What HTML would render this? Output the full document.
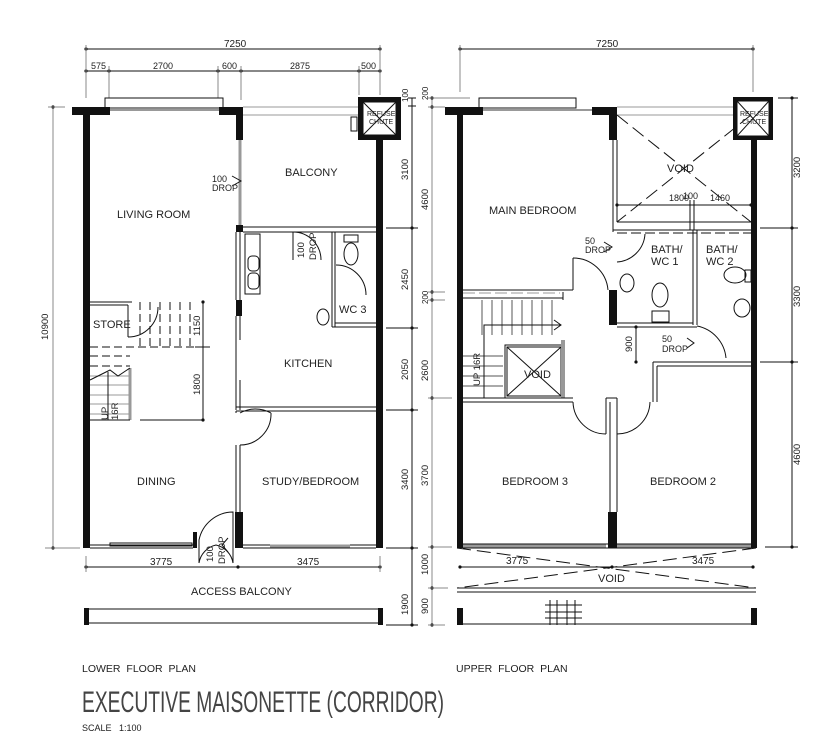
<!DOCTYPE html>
<html><head><meta charset="utf-8"><style>
html,body{margin:0;padding:0;background:#fff;}
svg{display:block;}
text{font-family:"Liberation Sans",sans-serif;fill:#222;}
</style></head><body>
<svg width="822" height="752" viewBox="0 0 822 752" xmlns="http://www.w3.org/2000/svg">
<defs>
<marker id="d" viewBox="0 0 4 4" refX="2" refY="2" markerWidth="4" markerHeight="4"><circle cx="2" cy="2" r="1.6" fill="#111"/></marker>
</defs>
<g stroke="#111" stroke-width="1" fill="none">
<!-- ===== LOWER PLAN ===== -->
<line x1="86" y1="49" x2="380" y2="49" marker-start="url(#d)" marker-end="url(#d)"/>
<line x1="86" y1="71" x2="380" y2="71"/>
<g marker-start="url(#d)"><line x1="86" y1="71" x2="86" y2="71.1"/><line x1="109" y1="71" x2="109" y2="71.1"/><line x1="218" y1="71" x2="218" y2="71.1"/><line x1="241" y1="71" x2="241" y2="71.1"/><line x1="359" y1="71" x2="359" y2="71.1"/><line x1="380" y1="71" x2="380" y2="71.1"/></g>
<g stroke="#888"><line x1="86" y1="45" x2="86" y2="98"/><line x1="109" y1="66" x2="109" y2="98"/><line x1="218" y1="66" x2="218" y2="98"/><line x1="241" y1="66" x2="241" y2="100"/><line x1="359" y1="66" x2="359" y2="95"/><line x1="380" y1="45" x2="380" y2="95"/></g>
<line x1="53" y1="107" x2="53" y2="548" stroke="#888" marker-start="url(#d)" marker-end="url(#d)"/>
<line x1="48" y1="107" x2="65" y2="107" stroke="#888"/><line x1="45" y1="548" x2="80" y2="548" stroke="#888"/>
<line x1="412" y1="98" x2="412" y2="625" marker-end="url(#d)"/>
<g marker-start="url(#d)"><line x1="412" y1="228" x2="412" y2="228.1"/><line x1="412" y1="328" x2="412" y2="328.1"/><line x1="412" y1="410" x2="412" y2="410.1"/><line x1="412" y1="548" x2="412" y2="548.1"/></g>
<line x1="408" y1="98" x2="416" y2="98"/><line x1="408" y1="106" x2="416" y2="106"/>
<g stroke="#111"><line x1="386" y1="228" x2="418" y2="228"/><line x1="386" y1="328" x2="418" y2="328"/><line x1="386" y1="410" x2="418" y2="410"/><line x1="386" y1="548" x2="418" y2="548"/><line x1="386" y1="625" x2="418" y2="625"/></g>
<line x1="86" y1="567" x2="380" y2="567"/>
<g marker-start="url(#d)"><line x1="86" y1="567" x2="86" y2="567.1"/><line x1="238" y1="567" x2="238" y2="567.1"/><line x1="380" y1="567" x2="380" y2="567.1"/></g>
<line x1="86" y1="556" x2="86" y2="572" stroke="#888"/><line x1="380" y1="556" x2="380" y2="572" stroke="#888"/>
<line x1="203" y1="302" x2="203" y2="420" marker-start="url(#d)" marker-end="url(#d)"/>
<line x1="140" y1="420" x2="203" y2="420"/><line x1="195" y1="347" x2="210" y2="347"/>
<g fill="#111" stroke="none">
<rect x="72" y="107" width="38" height="8"/>
<rect x="83" y="107" width="7" height="441"/>
<rect x="219" y="107" width="24" height="8"/><rect x="236" y="107" width="7" height="33"/>
<rect x="376" y="139" width="7" height="409"/>
<rect x="358" y="97" width="43" height="43"/>
<rect x="236" y="225" width="7" height="7"/>
<rect x="236" y="300" width="6" height="16"/>
<rect x="235" y="512" width="8" height="36"/>
<rect x="193" y="532" width="4" height="16"/>
<rect x="84" y="608" width="5" height="17"/><rect x="378" y="608" width="5" height="17"/>
</g>
<rect x="363" y="102" width="33" height="33" fill="#fff"/>
<line x1="363" y1="102" x2="396" y2="135"/><line x1="396" y1="102" x2="363" y2="135"/>
<rect x="105" y="98" width="118" height="10"/>
<line x1="110" y1="110" x2="219" y2="110" stroke="#999" stroke-width="2"/>
<g stroke="#999"><line x1="243" y1="107" x2="358" y2="107"/><line x1="243" y1="115" x2="358" y2="115"/></g>
<rect x="351" y="117" width="6" height="14"/>
<line x1="240" y1="140" x2="240" y2="225" stroke="#999" stroke-width="3"/>
<line x1="243" y1="227" x2="376" y2="227"/><line x1="243" y1="232" x2="376" y2="232"/>
<path d="M232 176 L241 181 L232 186"/>
<line x1="236" y1="232" x2="236" y2="300"/><line x1="240" y1="232" x2="240" y2="300"/>
<line x1="236" y1="316" x2="236" y2="410"/><line x1="240" y1="316" x2="240" y2="340"/><line x1="240" y1="380" x2="240" y2="410"/>
<rect x="245" y="234" width="15" height="60"/>
<rect x="248" y="256" width="11" height="15" rx="4"/><rect x="248" y="273" width="11" height="16" rx="4"/>
<line x1="236" y1="407" x2="376" y2="407"/><line x1="236" y1="411" x2="376" y2="411"/>
<path d="M293 232 A 28 28 0 0 1 321 260"/><line x1="293" y1="232" x2="293" y2="260"/>
<line x1="332" y1="232" x2="332" y2="327"/><line x1="335" y1="232" x2="335" y2="327"/>
<line x1="332" y1="327" x2="376" y2="327"/><line x1="335" y1="323" x2="376" y2="323"/>
<rect x="344" y="235" width="14" height="7"/><ellipse cx="351" cy="254" rx="7" ry="11"/>
<path d="M336 265 A 30 30 0 0 1 366 295"/>
<ellipse cx="323" cy="317" rx="6" ry="8"/>
<line x1="90" y1="302" x2="132" y2="302"/><line x1="90" y1="305" x2="128" y2="305"/>
<line x1="128" y1="305" x2="128" y2="337"/>
<path d="M128 337 A 30 30 0 0 0 158 307"/>
<g stroke-dasharray="8,4"><line x1="140" y1="302" x2="140" y2="347"/><line x1="150" y1="302" x2="150" y2="347"/><line x1="160" y1="302" x2="160" y2="347"/><line x1="170" y1="302" x2="170" y2="347"/><line x1="180" y1="302" x2="180" y2="347"/><line x1="190" y1="302" x2="190" y2="347"/>
<line x1="90" y1="347" x2="200" y2="347"/><line x1="90" y1="356" x2="130" y2="356"/><line x1="90" y1="366" x2="130" y2="366"/></g>
<g stroke="#999"><line x1="90" y1="376" x2="130" y2="376"/><line x1="90" y1="385" x2="130" y2="385"/><line x1="90" y1="395" x2="130" y2="395"/><line x1="90" y1="404" x2="130" y2="404"/><line x1="90" y1="414" x2="130" y2="414"/></g>
<line x1="130" y1="368" x2="130" y2="420" stroke="#999" stroke-width="3"/>
<path d="M90 380 L110 370 L118 376 L130 368"/><line x1="108" y1="372" x2="108" y2="420"/>
<line x1="90" y1="420" x2="130" y2="420"/>
<line x1="236" y1="411" x2="236" y2="413"/><path d="M240 413 A 32 32 0 0 1 271 413"/>
<path d="M240 445 A 31 31 0 0 0 271 413"/>
<line x1="236" y1="445" x2="236" y2="512"/><line x1="240" y1="445" x2="240" y2="512"/>
<line x1="90" y1="545" x2="193" y2="545"/><line x1="90" y1="548" x2="193" y2="548"/>
<rect x="110" y="543" width="82" height="3"/>
<line x1="243" y1="545" x2="376" y2="545"/><line x1="243" y1="548" x2="376" y2="548"/>
<line x1="270" y1="546" x2="350" y2="546" stroke="#999" stroke-width="3"/>
<path d="M199 563 L199 540 A 35 35 0 0 1 233 512 L233 563"/><path d="M199 563 A 22 22 0 0 1 216 545 A 22 22 0 0 1 233 563"/>
<path d="M228 538 L222 545 L228 552"/>
<line x1="89" y1="609" x2="378" y2="609"/><line x1="89" y1="623" x2="378" y2="623"/>

<!-- ===== UPPER PLAN ===== -->
<line x1="460" y1="49" x2="753" y2="49" marker-start="url(#d)" marker-end="url(#d)"/>
<g stroke="#888"><line x1="460" y1="45" x2="460" y2="92"/><line x1="753" y1="45" x2="753" y2="92"/></g>
<line x1="432" y1="98" x2="432" y2="625" stroke="#888" marker-end="url(#d)"/>
<g marker-start="url(#d)"><line x1="432" y1="98" x2="432" y2="98.1"/><line x1="432" y1="107" x2="432" y2="107.1"/><line x1="432" y1="292" x2="432" y2="292.1"/><line x1="432" y1="300" x2="432" y2="300.1"/><line x1="432" y1="398" x2="432" y2="398.1"/><line x1="432" y1="547" x2="432" y2="547.1"/><line x1="432" y1="588" x2="432" y2="588.1"/></g>
<g stroke="#888"><line x1="428" y1="98" x2="470" y2="98"/><line x1="428" y1="107" x2="445" y2="107"/><line x1="428" y1="292" x2="445" y2="292"/><line x1="428" y1="300" x2="445" y2="300"/><line x1="428" y1="398" x2="452" y2="398"/><line x1="428" y1="547" x2="452" y2="547"/><line x1="428" y1="588" x2="448" y2="588"/><line x1="428" y1="625" x2="445" y2="625"/></g>
<line x1="792" y1="98" x2="792" y2="547" marker-start="url(#d)" marker-end="url(#d)"/>
<g marker-start="url(#d)"><line x1="792" y1="228" x2="792" y2="228.1"/><line x1="792" y1="362" x2="792" y2="362.1"/></g>
<g><line x1="778" y1="98" x2="798" y2="98"/><line x1="760" y1="228" x2="798" y2="228"/><line x1="760" y1="362" x2="798" y2="362"/><line x1="765" y1="547" x2="798" y2="547"/></g>
<line x1="460" y1="567" x2="753" y2="567" marker-start="url(#d)" marker-end="url(#d)"/><line x1="612" y1="567" x2="612" y2="567.1" marker-start="url(#d)"/>
<g fill="#111" stroke="none">
<rect x="445" y="107" width="38" height="8"/><rect x="457" y="107" width="6" height="441"/>
<rect x="592" y="107" width="25" height="8"/><rect x="609" y="107" width="8" height="33"/>
<rect x="733" y="97" width="40" height="43"/><rect x="751" y="139" width="6" height="409"/>
<rect x="609" y="290" width="8" height="35"/>
<rect x="608" y="512" width="9" height="36"/>
<rect x="457" y="608" width="6" height="17"/><rect x="751" y="608" width="6" height="17"/>
</g>
<rect x="737" y="101" width="32" height="35" fill="#fff"/>
<line x1="737" y1="101" x2="769" y2="136"/><line x1="769" y1="101" x2="737" y2="136"/>
<rect x="479" y="98" width="97" height="10"/>
<line x1="483" y1="110" x2="592" y2="110" stroke="#999" stroke-width="2"/>
<g stroke="#999"><line x1="617" y1="107" x2="733" y2="107"/><line x1="617" y1="115" x2="733" y2="115"/></g>
<line x1="613" y1="140" x2="613" y2="232"/><line x1="617" y1="140" x2="617" y2="222"/>
<line x1="617" y1="222" x2="751" y2="222"/>
<g stroke-dasharray="14,6"><line x1="617" y1="115" x2="751" y2="222"/><line x1="751" y1="115" x2="617" y2="222"/></g>
<line x1="617" y1="205" x2="751" y2="205" marker-start="url(#d)" marker-end="url(#d)"/>
<line x1="690" y1="200" x2="690" y2="230"/><line x1="694" y1="200" x2="694" y2="230"/>
<line x1="613" y1="230" x2="751" y2="230"/><line x1="617" y1="233" x2="751" y2="233" stroke-dasharray="10,4"/>
<line x1="693" y1="230" x2="693" y2="325"/><line x1="697" y1="230" x2="697" y2="325"/>
<line x1="617" y1="323" x2="693" y2="323"/><line x1="617" y1="327" x2="697" y2="327"/>
<path d="M617 262 A 30 30 0 0 0 645 234"/>
<ellipse cx="627" cy="283" rx="7" ry="9"/><ellipse cx="660" cy="295" rx="8" ry="12"/><rect x="652" y="311" width="17" height="11"/>
<ellipse cx="735" cy="275" rx="11" ry="8"/><rect x="745" y="270" width="6" height="12"/><ellipse cx="742" cy="308" rx="8" ry="9"/>
<path d="M604 242 L612 247 L604 252"/>
<path d="M687 338 L694 343 L687 348"/>
<path d="M697 326 A 36 36 0 0 1 726 358"/>
<line x1="636" y1="327" x2="636" y2="362" marker-start="url(#d)" marker-end="url(#d)"/>
<line x1="463" y1="290" x2="573" y2="290"/><line x1="463" y1="293" x2="560" y2="293" stroke="#999" stroke-dasharray="12,4"/>
<line x1="573" y1="258" x2="573" y2="290"/><path d="M573 258 A 35 35 0 0 1 608 290"/>
<line x1="463" y1="298" x2="563" y2="298"/><line x1="563" y1="292" x2="563" y2="300"/>
<g stroke="#555"><line x1="482" y1="300" x2="482" y2="335"/><line x1="492" y1="300" x2="492" y2="335"/><line x1="502" y1="300" x2="502" y2="335"/><line x1="512" y1="300" x2="512" y2="335"/><line x1="522" y1="300" x2="522" y2="335"/><line x1="532" y1="300" x2="532" y2="335"/><line x1="542" y1="300" x2="542" y2="335"/><line x1="552" y1="300" x2="552" y2="335"/>
<line x1="463" y1="356" x2="503" y2="356"/><line x1="463" y1="366" x2="503" y2="366"/><line x1="463" y1="376" x2="503" y2="376"/><line x1="463" y1="386" x2="503" y2="386"/></g>
<path d="M484 398 L484 325 L561 325"/><path d="M554 320 L561 325 L554 330"/>
<rect x="505" y="345" width="58" height="53"/><rect x="507" y="347" width="54" height="49"/>
<line x1="507" y1="347" x2="561" y2="396"/><line x1="561" y1="347" x2="507" y2="396"/>
<line x1="563" y1="340" x2="563" y2="398" stroke="#999" stroke-width="4"/>
<line x1="463" y1="398" x2="573" y2="398"/><line x1="463" y1="402" x2="573" y2="402"/>
<path d="M573 402 A 33 33 0 0 0 606 434"/>
<path d="M606 398 L606 434 M610 402 L610 512 M617 398 L617 512 M606 398 L617 398"/>
<path d="M617 434 A 33 33 0 0 0 650 402"/>
<line x1="653" y1="362" x2="653" y2="402"/><line x1="657" y1="366" x2="657" y2="402"/>
<line x1="653" y1="362" x2="751" y2="362"/><line x1="657" y1="366" x2="751" y2="366"/>
<line x1="463" y1="544" x2="751" y2="544"/><line x1="463" y1="548" x2="751" y2="548"/>
<line x1="463" y1="546" x2="606" y2="546" stroke="#999" stroke-width="3"/><line x1="617" y1="546" x2="751" y2="546" stroke="#999" stroke-width="3"/>
<g stroke-dasharray="14,6"><line x1="457" y1="548" x2="756" y2="588"/><line x1="756" y1="548" x2="457" y2="588"/></g>
<line x1="457" y1="588" x2="756" y2="588"/><line x1="457" y1="592" x2="756" y2="592"/>
<line x1="463" y1="624" x2="751" y2="624"/>
<g><line x1="545" y1="605" x2="582" y2="605"/><line x1="545" y1="612" x2="582" y2="612"/><line x1="545" y1="618" x2="582" y2="618"/><line x1="550" y1="600" x2="550" y2="625"/><line x1="557" y1="600" x2="557" y2="625"/><line x1="567" y1="600" x2="567" y2="625"/><line x1="575" y1="600" x2="575" y2="625"/></g>
</g>

<g font-size="10">
<text x="224" y="47">7250</text>
<text x="91" y="69" font-size="9">575</text><text x="153" y="69" font-size="9">2700</text><text x="222" y="69" font-size="9">600</text><text x="290" y="69" font-size="9">2875</text><text x="361" y="69" font-size="9">500</text>
<text x="596" y="47">7250</text>
<text x="117" y="218" font-size="11">LIVING ROOM</text>
<text x="285" y="176" font-size="11">BALCONY</text>
<text x="212" y="182" font-size="9">100</text><text x="212" y="191" font-size="9">DROP</text>
<text x="93" y="328" font-size="11">STORE</text>
<text x="339" y="313" font-size="11">WC 3</text>
<text x="284" y="367" font-size="11">KITCHEN</text>
<text x="137" y="485" font-size="11">DINING</text>
<text x="262" y="485" font-size="11">STUDY/BEDROOM</text>
<text x="191" y="595" font-size="11">ACCESS BALCONY</text>
<text x="150" y="565" font-size="10">3775</text><text x="297" y="565" font-size="10">3475</text>
<text x="489" y="214" font-size="11">MAIN BEDROOM</text>
<text x="669" y="201" font-size="9">1800</text><text x="683" y="199" font-size="9">100</text><text x="710" y="201" font-size="9">1460</text>
<text x="667" y="172" font-size="11">VOID</text>
<text x="585" y="244" font-size="9">50</text><text x="585" y="253" font-size="9">DROP</text>
<text x="651" y="253" font-size="11">BATH/</text><text x="651" y="265" font-size="11">WC 1</text>
<text x="706" y="253" font-size="11">BATH/</text><text x="706" y="265" font-size="11">WC 2</text>
<text x="662" y="342" font-size="9">50</text><text x="662" y="352" font-size="9">DROP</text>
<text x="524" y="378" font-size="11">VOID</text>
<text x="502" y="485" font-size="11">BEDROOM 3</text>
<text x="650" y="485" font-size="11">BEDROOM 2</text>
<text x="506" y="564" font-size="10">3775</text><text x="692" y="564" font-size="10">3475</text>
<text x="598" y="582" font-size="11">VOID</text>
<text x="82" y="672" font-size="10.5" word-spacing="3">LOWER FLOOR PLAN</text>
<text x="456" y="672" font-size="10.5" word-spacing="3">UPPER FLOOR PLAN</text>
<text x="82" y="712" font-size="30" textLength="362" lengthAdjust="spacingAndGlyphs" style="fill:#444">EXECUTIVE MAISONETTE (CORRIDOR)</text>
<text x="82" y="731" font-size="9" word-spacing="5">SCALE 1:100</text>
</g>
<g font-size="9.5">
<text transform="translate(48,340) rotate(-90)">10900</text>
<text transform="translate(408,102) rotate(-90)" font-size="8">100</text>
<text transform="translate(408,180) rotate(-90)">3100</text>
<text transform="translate(408,290) rotate(-90)">2450</text>
<text transform="translate(408,380) rotate(-90)">2050</text>
<text transform="translate(408,490) rotate(-90)">3400</text>
<text transform="translate(408,615) rotate(-90)">1900</text>
<text transform="translate(200,336) rotate(-90)">1150</text>
<text transform="translate(200,395) rotate(-90)">1800</text>
<text transform="translate(304,258) rotate(-90)">100</text><text transform="translate(316,260) rotate(-90)">DROP</text>
<text transform="translate(108,420) rotate(-90)">UP</text><text transform="translate(118,420) rotate(-90)">16R</text>
<text transform="translate(213,562) rotate(-90)">100</text><text transform="translate(225,564) rotate(-90)">DROP</text>
<text transform="translate(428,100) rotate(-90)" font-size="8">200</text>
<text transform="translate(428,210) rotate(-90)">4600</text>
<text transform="translate(428,304) rotate(-90)" font-size="8">200</text>
<text transform="translate(428,381) rotate(-90)">2600</text>
<text transform="translate(428,486) rotate(-90)">3700</text>
<text transform="translate(428,575) rotate(-90)">1000</text>
<text transform="translate(428,614) rotate(-90)">900</text>
<text transform="translate(800,178) rotate(-90)">3200</text>
<text transform="translate(800,307) rotate(-90)">3300</text>
<text transform="translate(800,465) rotate(-90)">4600</text>
<text transform="translate(632,352) rotate(-90)">900</text>
<text transform="translate(480,386) rotate(-90)">UP 16R</text>
</g>
<g font-size="7"><text x="367" y="116">REFUSE</text><text x="369" y="124">CHUTE</text>
<text x="740" y="116">REFUSE</text><text x="742" y="124">CHUTE</text></g>
</svg>
</body></html>
